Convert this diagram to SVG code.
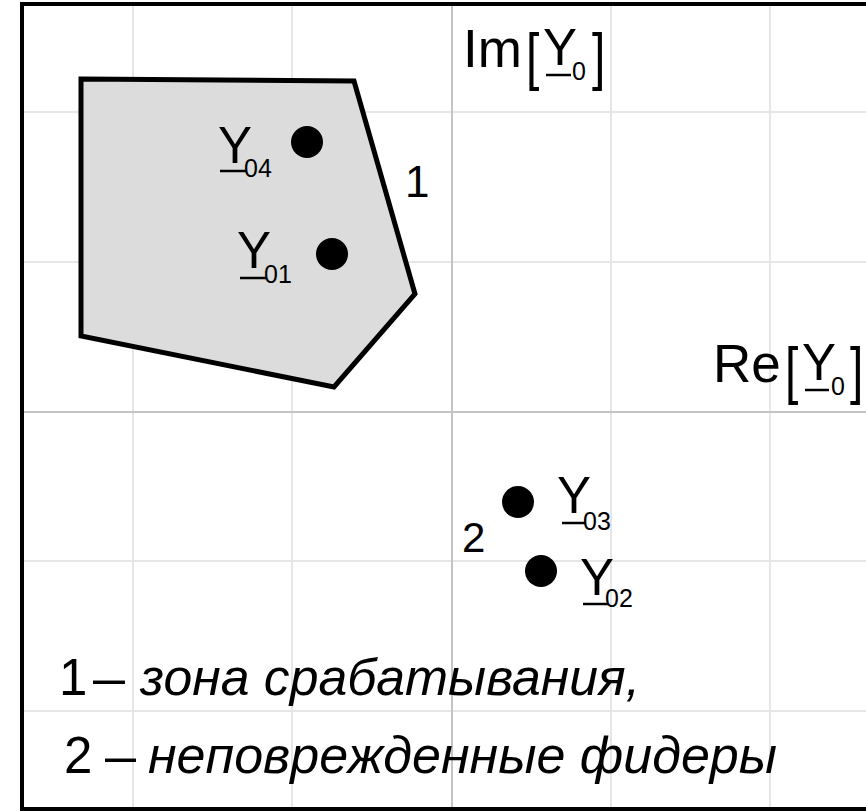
<svg xmlns="http://www.w3.org/2000/svg" width="866" height="812" viewBox="0 0 866 812">
<style>
.grid{stroke:#e6e6e6;stroke-width:2;fill:none}
.axis{stroke:#c4c4c4;stroke-width:2;fill:none}
.t{font-family:"Liberation Sans",Arial,sans-serif;fill:#000}
.y{font-size:51px}
.sub{font-size:25px}
.ul{stroke:#000;stroke-width:2.5}
.br{font-size:48px}
.it{font-style:italic}
.dot{fill:#000}
</style>
<rect x="0" y="0" width="866" height="812" fill="#fff"/>
<g id="grid">
<line class="grid" x1="133" y1="4" x2="133" y2="809"/>
<line class="grid" x1="292" y1="4" x2="292" y2="809"/>
<line class="grid" x1="611" y1="4" x2="611" y2="809"/>
<line class="grid" x1="770" y1="4" x2="770" y2="809"/>
<line class="grid" x1="22" y1="112" x2="866" y2="112"/>
<line class="grid" x1="22" y1="262" x2="866" y2="262"/>
<line class="grid" x1="22" y1="561" x2="866" y2="561"/>
<line class="grid" x1="22" y1="711" x2="866" y2="711"/>
</g>
<g id="axes">
<line class="axis" x1="452" y1="4" x2="452" y2="809" stroke="#d0d0d0"/>
<line class="axis" x1="22" y1="412" x2="866" y2="412"/>
</g>
<rect id="frame" x="22" y="4" width="900" height="805" fill="none" stroke="#000" stroke-width="4"/>
<g id="zone1">
<polygon points="81,79 354,81 415,294 334,387 81,336" fill="#dcdcdc" stroke="#000" stroke-width="5" stroke-linejoin="miter"/>
<text class="t" x="405" y="197" font-size="44">1</text>
</g>
<g id="imlabel">
<text class="t" x="463" y="67" font-size="53">Im</text>
<text class="t br" transform="translate(526,78) scale(1,1.3)">[</text>
<text class="t y" x="543" y="65">Y<tspan class="sub" dx="-5" dy="15">0</tspan></text>
<line class="ul" x1="546" y1="75" x2="571" y2="75"/>
<text class="t br" transform="translate(592,78) scale(1,1.3)">]</text>
</g>
<g id="relabel">
<text class="t" x="713" y="382" font-size="53">Re</text>
<text class="t br" transform="translate(785,392) scale(1,1.3)">[</text>
<text class="t y" x="802" y="380">Y<tspan class="sub" dx="-5" dy="15">0</tspan></text>
<line class="ul" x1="805" y1="390" x2="829" y2="390"/>
<text class="t br" transform="translate(850,392) scale(1,1.3)">]</text>
</g>
<g id="Y04">
<circle class="dot" cx="307" cy="142" r="16"/>
<text class="t y" x="218" y="163">Y<tspan class="sub" dx="-8" dy="14">04</tspan></text>
<line class="ul" x1="220" y1="171" x2="246" y2="171"/>
</g>
<g id="Y01">
<circle class="dot" cx="332" cy="254" r="16"/>
<text class="t y" x="237" y="268">Y<tspan class="sub" dx="-7" dy="15">01</tspan></text>
<line class="ul" x1="240" y1="278" x2="266" y2="278"/>
</g>
<g id="Y03">
<circle class="dot" cx="518" cy="502" r="16"/>
<text class="t y" x="557" y="513">Y<tspan class="sub" dx="-8" dy="17">03</tspan></text>
<line class="ul" x1="562" y1="523" x2="586" y2="523"/>
</g>
<g id="Y02">
<circle class="dot" cx="541" cy="571" r="16"/>
<text class="t y" x="580" y="595">Y<tspan class="sub" dx="-9" dy="12">02</tspan></text>
<line class="ul" x1="583" y1="604" x2="608" y2="604"/>
<text class="t" x="462" y="552" font-size="42">2</text>
</g>
<g id="legend">
<text class="t" x="59" y="695" font-size="51">1</text>
<text class="t" x="93" y="695" font-size="51" textLength="32" lengthAdjust="spacingAndGlyphs">–</text>
<text class="t it" x="140" y="695" font-size="52" textLength="500" lengthAdjust="spacingAndGlyphs">зона срабатывания,</text>
<text class="t" x="64" y="773" font-size="51">2</text>
<text class="t" x="105" y="773" font-size="51" textLength="31" lengthAdjust="spacingAndGlyphs">–</text>
<text class="t it" x="148" y="773" font-size="52" textLength="629" lengthAdjust="spacingAndGlyphs">неповрежденные фидеры</text>
</g>
</svg>
